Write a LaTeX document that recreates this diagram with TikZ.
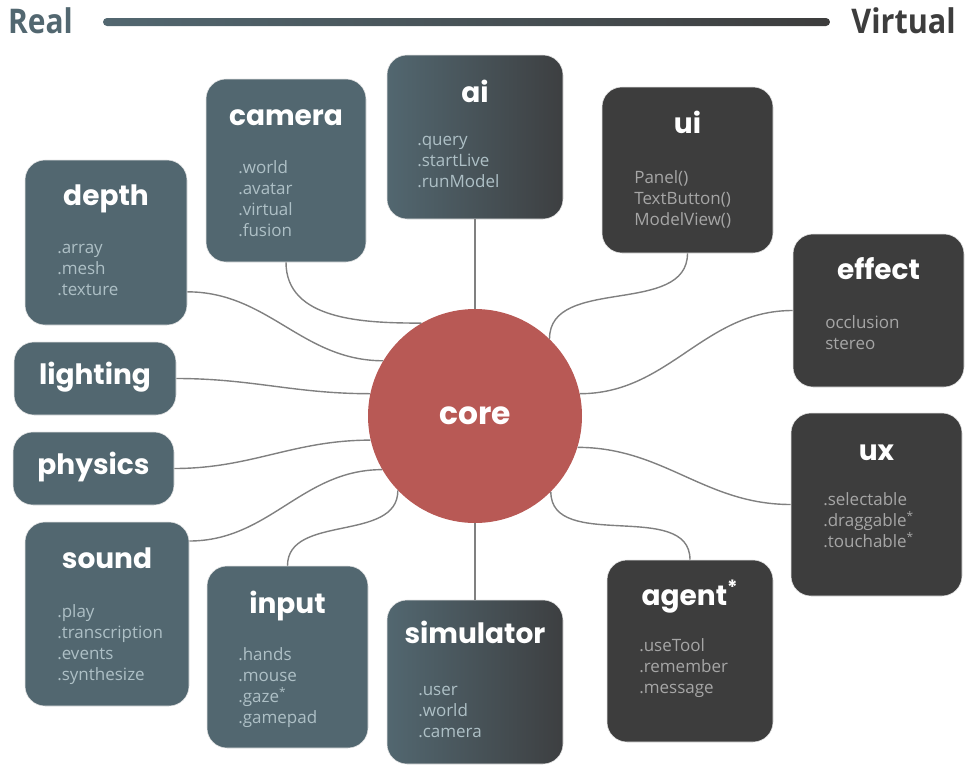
\documentclass[tikz,border=0pt]{standalone}
\usepackage{fontspec}
\setmainfont{Open Sans}
\newfontfamily\titlefont{Poppins}
\definecolor{slate}{HTML}{526770}
\definecolor{darkbox}{HTML}{3D3D3D}
\definecolor{gradR}{HTML}{3D3F41}
\definecolor{coreRed}{HTML}{B85955}
\definecolor{lineGray}{HTML}{808080}
\definecolor{itemA}{HTML}{AEC0C6}
\definecolor{itemB}{HTML}{A6A6A6}
\newcommand\pxu{0.75pt}
\tikzset{
  box/.style={rectangle, rounded corners=15pt, draw=black!10, line width=0.4pt, inner sep=0pt},
  slatebox/.style={box, fill=slate},
  darkboxst/.style={box, fill=darkbox},
  gradbox/.style={box, left color=slate, right color=gradR},
  titletext/.style={anchor=base, text=white, font=\titlefont\bfseries\fontsize{21pt}{26pt}\selectfont, inner sep=0pt},
  itemtA/.style={anchor=base west, text=itemA, font=\fontsize{12.75pt}{15pt}\selectfont, inner sep=0pt},
  itemtB/.style={anchor=base west, text=itemB, font=\fontsize{12.75pt}{15pt}\selectfont, inner sep=0pt},
  conn/.style={draw=lineGray, line width=1.05pt},
}
\newcommand\mkbox[6]{\node[#6, minimum width=#4*\pxu, minimum height=#5*\pxu] (#1) at (#2,-#3) {};}
\newcommand\mkitems[5]{\foreach \t [count=\i from 0] in {#5} \node[#2] (#1-i\i) at (#3,{-(#4+21*\i)}) {\t};}
\begin{document}
\begin{tikzpicture}[x=0.75pt,y=0.75pt]
\useasboundingbox (0,0) rectangle (979,-778);
% top scale
\node[anchor=base west, inner sep=0pt, text=slate, font=\bfseries\fontsize{25.5pt}{30pt}\selectfont, xscale=0.88, transform shape] (real) at (8,-33) {Real};
\node[anchor=base east, inner sep=0pt, text=darkbox, font=\bfseries\fontsize{25.5pt}{30pt}\selectfont, xscale=0.9, transform shape] (virtual) at (956,-33) {Virtual};
\shade[left color=slate, right color=darkbox, rounded corners=3pt] (103,-18) rectangle (830,-26);

\node[circle, fill=coreRed, minimum size=214*\pxu, inner sep=0pt, text=white, font=\titlefont\bfseries\fontsize{23.5pt}{28pt}\selectfont] (core) at (475,-416) {core};

\mkbox{depth}{106}{242.5}{162}{165}{slatebox}
\mkbox{lighting}{95}{378.5}{162}{73}{slatebox}
\mkbox{physics}{93.5}{468.5}{161}{73}{slatebox}
\mkbox{sound}{107}{614}{164}{184}{slatebox}
\mkbox{camera}{286}{170.5}{160}{183}{slatebox}
\mkbox{ai}{475}{137}{176}{164}{gradbox}
\mkbox{ui}{687.5}{170}{171}{166}{darkboxst}
\mkbox{effect}{878.5}{310.5}{171}{153}{darkboxst}
\mkbox{ux}{876.5}{504.5}{171}{183}{darkboxst}
\mkbox{agent}{690}{651}{166}{182}{darkboxst}
\mkbox{simulator}{475}{682}{176}{164}{gradbox}
\mkbox{input}{287.5}{657}{161}{182}{slatebox}

\draw[conn] (ai.south) -- (core.north);
\draw[conn] (core.south) -- (simulator.north);
\draw[conn] (camera.south) to[out=-90,in=180] (core.120);
\draw[conn] ([yshift=-37pt]depth.east) to[out=0,in=180] (core.149);
\draw[conn] (lighting.east) to[out=0,in=180] (core.168);
\draw[conn] (physics.east) to[out=0,in=180] (core.193);
\draw[conn] ([yshift=54.75pt]sound.east) to[out=0,in=180] (core.210);
\draw[conn] (input.north) to[out=90,in=-90] (core.224);
\draw[conn] (ui.south) to[out=-90,in=90] (core.46);
\draw[conn] (effect.west) to[out=180,in=0] (core.12);
\draw[conn] (ux.west) to[out=180,in=0] (core.-17);
\draw[conn] (agent.north) to[out=90,in=-90] (core.-45);

% titles
\node[titletext] (depth-t) at (106,-205) {depth};
\node[titletext] (lighting-t) at (95,-384) {lighting};
\node[titletext] (physics-t) at (93.5,-474) {physics};
\node[titletext] (sound-t) at (107,-568) {sound};
\node[titletext] (camera-t) at (286,-125) {camera};
\node[titletext] (ai-t) at (475,-102) {ai};
\node[titletext] (ui-t) at (687.5,-133) {ui};
\node[titletext] (effect-t) at (878.5,-279) {effect};
\node[titletext] (ux-t) at (876.5,-460) {ux};
\node[titletext] (agent-t) at (690,-605) {agent\textsuperscript{*}};
\node[titletext] (simulator-t) at (475,-643) {simulator};
\node[titletext] (input-t) at (287.5,-613) {input};

% items
\mkitems{depth}{itemtA}{57}{253}{.array,.mesh,.texture}
\mkitems{sound}{itemtA}{57}{617}{.play,.transcription,.events,.synthesize}
\mkitems{camera}{itemtA}{238}{173}{.world,.avatar,.virtual,.fusion}
\mkitems{ai}{itemtA}{417}{145}{.query,.startLive,.runModel}
\mkitems{ui}{itemtB}{634}{183}{Panel(),TextButton(),ModelView()}
\mkitems{effect}{itemtB}{825}{328}{occlusion,stereo}
\mkitems{ux}{itemtB}{823}{505}{.selectable,.draggable\textsuperscript{*},.touchable\textsuperscript{*}}
\mkitems{agent}{itemtB}{639}{651}{.useTool,.remember,.message}
\mkitems{simulator}{itemtA}{418}{695}{.user,.world,.camera}
\mkitems{input}{itemtA}{238}{660}{.hands,.mouse,.gaze\textsuperscript{*},.gamepad}
\end{tikzpicture}
\end{document}
